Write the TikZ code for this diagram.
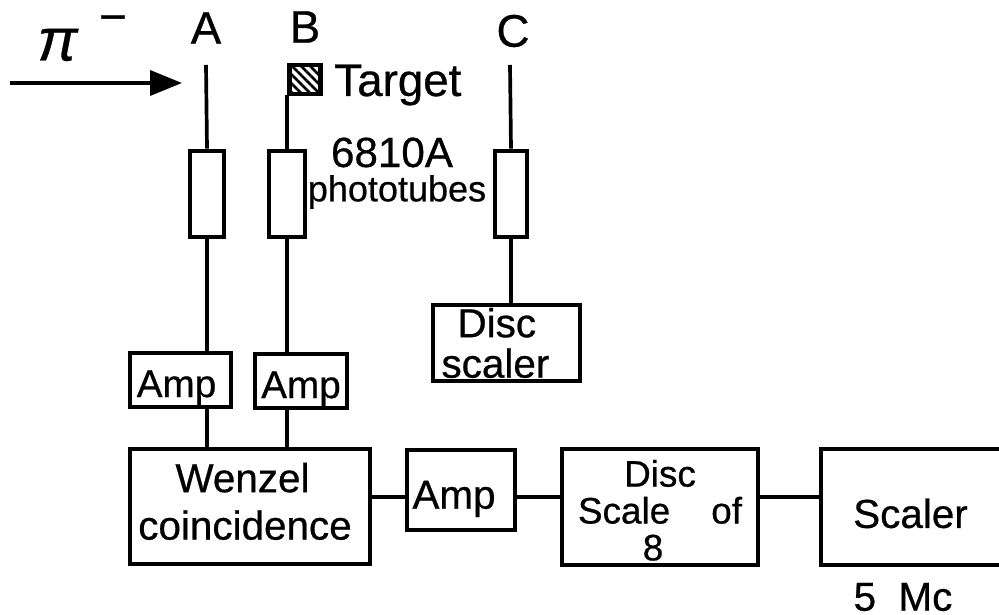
\documentclass[tikz,border=0pt]{standalone}
\usepackage{fontspec}
\setmainfont{Liberation Sans}[FakeBold=0.6]
\usetikzlibrary{arrows.meta}
\usetikzlibrary{patterns.meta}
\newcommand{\lettersize}[1]{\fontsize{#1}{#1}\selectfont}
\newcommand{\pushdown}[1]{\rule{0pt}{#1}}
\newcommand{\pushup}[1]{\rule[-#1]{0pt}{#1}}
\tikzset{
	unit/.style={draw, line width=2.6pt, inner sep=0pt, align=center, font=\lettersize{22}},
	tube/.style={draw, line width=2.6pt, inner sep=0pt, minimum width=#1, minimum height=1.72cm},
	wire/.style={line width=2.1pt},
	label/.style={inner sep=0pt, font=\lettersize{26}}
}
\begin{document}
\begin{tikzpicture}
\useasboundingbox (0,0) rectangle (19.98,12.3);
\node [tube=0.68cm] (tubeA) at (4.14,8.42) {};
\node [tube=0.72cm] (tubeB) at (5.74,8.42) {};
\node [tube=0.64cm] (tubeC) at (10.22,8.42) {};
\node [label] (labelA) at (4.12,11.74) {A};
\node [label] (labelB) at (6.1,11.76) {B};
\node [label] (labelC) at (10.26,11.68) {C};
\node [label] (pion) at (1.16,11.4) {\lettersize{34}\textit{π}};
\node [label] (minus) at (2.26,11.82) {\lettersize{27}−};
\node [draw, line width=2.6pt, minimum width=0.62cm, minimum height=0.58cm, inner sep=0pt,
	pattern={Lines[angle=-45,distance=3.6pt,line width=1.5pt]}] (target) at (6.1,10.71) {};
\node [label, anchor=west] (targetlabel) at (6.68,10.6) {Target};
\node [label, font=\lettersize{24}] (tubetype) at (7.84,9.25) {6810A};
\node [label, font=\lettersize{20.5}] (tubename) at (7.94,8.46) {phototubes};
\coordinate (beamstart) at (0.2,10.64);
\coordinate (beamend) at (3.64,10.64);
\coordinate (topA) at (4.12,11);
\coordinate (topC) at (10.2,11);
\coordinate (bus) at (0,2.36);
\node [unit, minimum width=2.02cm, minimum height=1.08cm] (ampA) at (3.61,4.7) {\pushdown{24pt}Amp\hspace*{0.16cm}};
\node [unit, minimum width=1.84cm, minimum height=1.08cm] (ampB) at (6.02,4.68) {\pushdown{24pt}Amp};
\node [unit, minimum width=2.94cm, minimum height=1.52cm, text width=2.6cm, align=left, font=\lettersize{23}] (discscaler) at (10.13,5.44) {\hspace*{0.32cm}Disc\\scaler};
\node [unit, minimum width=4.8cm, minimum height=2.3cm, font=\lettersize{23}] (wenzel) at (5,2.17) {Wenzel\hspace*{0.3cm}\\[4pt]coincidence\hspace*{0.2cm}\pushup{6pt}};
\node [unit, minimum width=2.16cm, minimum height=1.6cm, font=\lettersize{23}] (ampC) at (9.22,2.5) {\pushdown{26pt}Amp\hspace*{0.28cm}};
\node [unit, minimum width=3.92cm, minimum height=2.32cm, font=\lettersize{21}] (disceight) at (13.2,2.16) {\pushdown{19pt}Disc\\Scale\ \ \ \ of\hspace*{0.56cm}\\8\hspace*{0.28cm}};
\node [unit, minimum width=3.78cm, minimum height=2.32cm, font=\lettersize{23}] (scaler) at (18.31,2.16) {\pushdown{24pt}Scaler\hspace*{0.2cm}};
\node [label, font=\lettersize{23}] (freq) at (18.06,0.36) {5\ \ Mc};
\draw [wire, -{Triangle[length=0.64cm,width=0.5cm]}] (beamstart) -- (beamend);
\draw [wire] (topA) -- (tubeA.north);
\draw [wire] (tubeB.north |- target.south) -- (tubeB.north);
\draw [wire] (topC) -- (tubeC.north);
\draw [wire] (tubeA.south) -- (tubeA.south |- ampA.north);
\draw [wire] (tubeB.south) -- (tubeB.south |- ampB.north);
\draw [wire] (tubeC.south) -- (tubeC.south |- discscaler.north);
\draw [wire] (tubeA.south |- ampA.south) -- (tubeA.south |- wenzel.north);
\draw [wire] (tubeB.south |- ampB.south) -- (tubeB.south |- wenzel.north);
\draw [wire] (wenzel.east |- bus) -- (ampC.west |- bus);
\draw [wire] (ampC.east |- bus) -- (disceight.west |- bus);
\draw [wire] (disceight.east |- bus) -- (scaler.west |- bus);
\end{tikzpicture}
\end{document}
